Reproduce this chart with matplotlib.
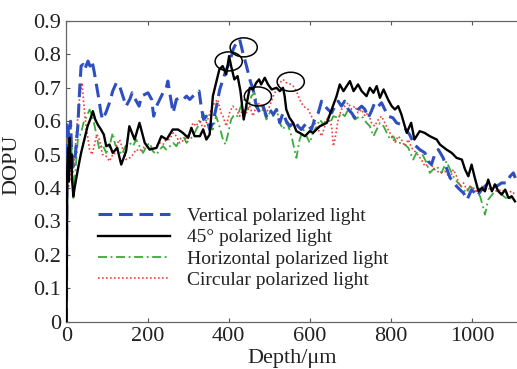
import matplotlib
matplotlib.use('Agg')
import matplotlib.pyplot as plt
from matplotlib.patches import Ellipse

plt.rcParams['font.family'] = ['Liberation Serif', 'DejaVu Serif']
plt.rcParams['mathtext.fontset'] = 'stix'

# ---- data
# 45 degree polarized light (black solid)
x_45 = [0, 2, 4, 6, 8, 10, 12, 14, 17, 20, 28, 36, 44, 52, 60, 65, 71, 77, 85, 92,
        98, 106, 114, 125, 135, 147, 155, 168, 180, 193, 205, 222, 234, 247, 262, 275, 287, 300, 308, 316,
        329, 337, 345, 353, 357, 361, 369, 377, 385, 394, 401, 406, 414, 422, 429, 437, 444, 452, 460, 468,
        475, 480, 489, 497, 506, 518, 526, 534, 538, 542, 550, 559, 567, 575, 588, 600, 608, 625, 642, 654,
        666, 674, 683, 691, 699, 708, 719, 728, 740, 748, 757, 765, 773, 782, 793, 802, 810, 818, 826, 839,
        850, 858, 871, 883, 896, 913, 921, 937, 950, 962, 975, 983, 991, 999, 1007, 1016, 1024, 1032, 1040, 1049,
        1057, 1065, 1073, 1082, 1090, 1098, 1106]
y_45 = [0.0, 0.45, 0.52, 0.42, 0.55, 0.46, 0.5, 0.42, 0.375, 0.40, 0.455, 0.505, 0.545, 0.585, 0.61, 0.63, 0.605, 0.59, 0.575, 0.56,
        0.525, 0.53, 0.505, 0.52, 0.47, 0.51, 0.585, 0.545, 0.595, 0.535, 0.515, 0.52, 0.555, 0.545, 0.575, 0.575, 0.565, 0.55, 0.58, 0.555,
        0.555, 0.575, 0.545, 0.56, 0.615, 0.675, 0.715, 0.755, 0.765, 0.74, 0.795, 0.765, 0.725, 0.735, 0.69, 0.605, 0.65, 0.70, 0.695, 0.715,
        0.725, 0.71, 0.73, 0.71, 0.695, 0.70, 0.69, 0.70, 0.675, 0.635, 0.61, 0.595, 0.57, 0.565, 0.555, 0.57, 0.565, 0.585, 0.595, 0.635,
        0.675, 0.71, 0.69, 0.705, 0.72, 0.69, 0.71, 0.69, 0.675, 0.70, 0.685, 0.705, 0.67, 0.695, 0.665, 0.645, 0.635, 0.645, 0.62, 0.565,
        0.595, 0.545, 0.57, 0.565, 0.555, 0.545, 0.53, 0.515, 0.505, 0.49, 0.485, 0.455, 0.435, 0.47, 0.43, 0.39, 0.40, 0.39, 0.425, 0.39,
        0.41, 0.39, 0.38, 0.395, 0.37, 0.375, 0.36]

# vertical polarized light (blue dashed)
x_vert = [0, 1, 4, 7, 10, 13, 17, 22, 28, 32, 36, 41, 45, 53, 58, 63, 68, 73, 80, 85,
          89, 97, 106, 114, 123, 131, 139, 147, 156, 162, 170, 179, 185, 193, 201, 210, 215, 222, 230, 238,
          245, 250, 256, 263, 271, 279, 288, 296, 304, 312, 320, 327, 332, 338, 345, 353, 361, 370, 378, 386,
          394, 402, 411, 419, 427, 435, 444, 452, 460, 468, 477, 485, 493, 501, 510, 518, 526, 534, 542, 551,
          563, 571, 579, 592, 604, 612, 621, 629, 637, 645, 654, 662, 670, 678, 686, 695, 703, 711, 719, 728,
          736, 744, 752, 760, 769, 777, 785, 793, 805, 814, 825, 834, 846, 858, 871, 884, 892, 900, 908, 917,
          929, 937, 946, 954, 962, 970, 979, 988, 999, 1007, 1012, 1024, 1036, 1049, 1061, 1073, 1086, 1094, 1102, 1107]
y_vert = [0.0, 0.6, 0.58, 0.52, 0.6, 0.5, 0.465, 0.5, 0.585, 0.685, 0.765, 0.77, 0.755, 0.78, 0.765, 0.78, 0.75, 0.715, 0.665, 0.625,
          0.605, 0.625, 0.655, 0.69, 0.715, 0.705, 0.675, 0.645, 0.665, 0.685, 0.665, 0.645, 0.675, 0.68, 0.685, 0.665, 0.615, 0.645, 0.665, 0.685,
          0.695, 0.72, 0.675, 0.625, 0.665, 0.67, 0.665, 0.675, 0.665, 0.675, 0.685, 0.69, 0.645, 0.605, 0.615, 0.575, 0.595, 0.645, 0.695, 0.725,
          0.755, 0.775, 0.815, 0.835, 0.845, 0.805, 0.765, 0.725, 0.695, 0.645, 0.625, 0.645, 0.615, 0.635, 0.62, 0.635, 0.595, 0.625, 0.60, 0.585,
          0.60, 0.585, 0.575, 0.595, 0.575, 0.605, 0.625, 0.66, 0.645, 0.635, 0.625, 0.645, 0.66, 0.645, 0.66, 0.635, 0.625, 0.61, 0.635, 0.645,
          0.635, 0.61, 0.63, 0.655, 0.645, 0.655, 0.635, 0.615, 0.61, 0.595, 0.59, 0.58, 0.56, 0.53, 0.515, 0.505, 0.48, 0.47, 0.50, 0.515,
          0.49, 0.46, 0.43, 0.42, 0.405, 0.395, 0.385, 0.365, 0.395, 0.385, 0.375, 0.395, 0.41, 0.415, 0.405, 0.415, 0.415, 0.435, 0.445, 0.43]

# horizontal polarized light (green dash-dot)
x_horz = [0, 1, 4, 7, 10, 13, 17, 22, 28, 36, 42, 48, 57, 65, 73, 81, 89, 98, 106, 114,
          120, 128, 137, 145, 156, 164, 172, 180, 189, 197, 205, 213, 222, 230, 238, 246, 255, 263, 271, 279,
          288, 296, 304, 312, 320, 329, 337, 345, 353, 361, 369, 377, 386, 392, 398, 406, 414, 422, 430, 439,
          447, 456, 464, 469, 477, 485, 493, 501, 510, 518, 526, 534, 542, 547, 555, 563, 567, 575, 584, 592,
          600, 608, 617, 625, 633, 642, 650, 658, 670, 678, 686, 695, 703, 711, 724, 732, 740, 748, 757, 765,
          773, 782, 790, 798, 806, 814, 830, 843, 855, 863, 871, 880, 888, 896, 904, 913, 925, 937, 946, 958,
          970, 979, 987, 995, 1007, 1020, 1028, 1032, 1040, 1053, 1065, 1078, 1090, 1102]
y_horz = [0.0, 0.55, 0.5, 0.55, 0.47, 0.52, 0.37, 0.45, 0.545, 0.565, 0.595, 0.61, 0.635, 0.61, 0.565, 0.515, 0.53, 0.505, 0.525, 0.565,
          0.53, 0.515, 0.50, 0.525, 0.535, 0.525, 0.545, 0.525, 0.505, 0.525, 0.535, 0.51, 0.50, 0.515, 0.525, 0.515, 0.525, 0.535, 0.525, 0.545,
          0.555, 0.535, 0.545, 0.555, 0.575, 0.595, 0.625, 0.60, 0.58, 0.575, 0.615, 0.585, 0.545, 0.53, 0.56, 0.605, 0.62, 0.615, 0.645, 0.665,
          0.635, 0.675, 0.685, 0.655, 0.625, 0.635, 0.605, 0.625, 0.615, 0.635, 0.595, 0.575, 0.595, 0.585, 0.555, 0.51, 0.49, 0.545, 0.575, 0.555,
          0.535, 0.565, 0.585, 0.605, 0.59, 0.605, 0.595, 0.615, 0.61, 0.625, 0.615, 0.635, 0.62, 0.605, 0.615, 0.61, 0.595, 0.585, 0.555, 0.575,
          0.595, 0.585, 0.565, 0.545, 0.555, 0.535, 0.535, 0.52, 0.485, 0.505, 0.515, 0.495, 0.475, 0.445, 0.455, 0.465, 0.445, 0.48, 0.455, 0.425,
          0.41, 0.395, 0.385, 0.405, 0.395, 0.375, 0.34, 0.32, 0.365, 0.385, 0.395, 0.375, 0.365, 0.375]

# circular polarized light (red dotted)
x_circ = [0, 2, 5, 8, 12, 16, 20, 24, 32, 38, 44, 49, 52, 57, 63, 69, 75, 81, 89, 98,
          106, 114, 118, 124, 131, 139, 147, 156, 164, 172, 180, 188, 197, 205, 213, 222, 230, 238, 246, 254,
          263, 271, 279, 292, 304, 312, 320, 329, 337, 345, 357, 365, 373, 381, 386, 394, 402, 410, 419, 427,
          435, 444, 452, 460, 468, 477, 485, 493, 501, 510, 518, 526, 534, 542, 547, 559, 567, 575, 584, 596,
          604, 612, 621, 629, 637, 645, 654, 658, 662, 670, 678, 686, 695, 703, 711, 719, 728, 736, 744, 752,
          760, 769, 777, 785, 793, 802, 810, 818, 826, 834, 843, 851, 863, 875, 884, 896, 908, 921, 933, 946,
          954, 962, 970, 979, 987, 999, 1012, 1024, 1036, 1049, 1061, 1073, 1086, 1098, 1107]
y_circ = [0.0, 0.45, 0.4, 0.5, 0.42, 0.45, 0.495, 0.56, 0.665, 0.715, 0.635, 0.575, 0.555, 0.515, 0.5, 0.53, 0.56, 0.545, 0.5, 0.495,
          0.48, 0.50, 0.5, 0.53, 0.545, 0.515, 0.485, 0.49, 0.50, 0.515, 0.51, 0.52, 0.525, 0.52, 0.515, 0.525, 0.535, 0.53, 0.545, 0.545,
          0.565, 0.555, 0.535, 0.545, 0.565, 0.595, 0.585, 0.605, 0.575, 0.595, 0.635, 0.655, 0.665, 0.625, 0.615, 0.585, 0.625, 0.645, 0.635, 0.615,
          0.635, 0.625, 0.645, 0.615, 0.645, 0.655, 0.635, 0.625, 0.645, 0.675, 0.695, 0.715, 0.725, 0.715, 0.715, 0.705, 0.69, 0.665, 0.645, 0.635,
          0.615, 0.595, 0.575, 0.555, 0.585, 0.615, 0.585, 0.525, 0.545, 0.605, 0.635, 0.645, 0.655, 0.635, 0.645, 0.625, 0.635, 0.615, 0.625, 0.595,
          0.585, 0.605, 0.615, 0.595, 0.575, 0.555, 0.535, 0.555, 0.545, 0.525, 0.545, 0.52, 0.505, 0.485, 0.465, 0.475, 0.455, 0.445, 0.45, 0.43,
          0.455, 0.435, 0.405, 0.415, 0.395, 0.405, 0.39, 0.405, 0.395, 0.40, 0.39, 0.395, 0.385, 0.39, 0.38]

# circled features (depth, DOPU centre)
circle_x = [400, 437, 472, 553]
circle_y = [0.779, 0.821, 0.674, 0.718]

# ---- figure
fig = plt.figure(figsize=(5.17, 3.69), dpi=100)
ax = fig.add_axes([0.1286, 0.1287, 0.8714, 0.8144])

ax.plot(x_vert, y_vert, color='#2f4fc0', linewidth=2.2, linestyle=(0, (4.5, 2.2)),
        label='Vertical polarized light', zorder=3)
ax.plot(x_45, y_45, color='black', linewidth=1.7, label='45° polarized light', zorder=4)
ax.plot(x_horz, y_horz, color='#3aaa3a', linewidth=1.3, linestyle=(0, (5, 2, 1, 2)),
        label='Horizontal polarized light', zorder=2)
ax.plot(x_circ, y_circ, color='#f04040', linewidth=1.2, linestyle=(0, (1, 1.4)),
        label='Circular polarized light', zorder=2)

for cx, cy in zip(circle_x, circle_y):
    ax.add_patch(Ellipse((cx, cy), 67, 0.057, fill=False, edgecolor='black', linewidth=1.1, zorder=5))

ax.set_xlim(0, 1111)
ax.set_ylim(0, 0.9)
ax.set_xticks([0, 200, 400, 600, 800, 1000])
ax.set_yticks([0, 0.1, 0.2, 0.3, 0.4, 0.5, 0.6, 0.7, 0.8, 0.9])
ax.set_yticklabels(['0', '0.1', '0.2', '0.3', '0.4', '0.5', '0.6', '0.7', '0.8', '0.9'])
ax.tick_params(direction='in', top=True, right=False, length=3, width=0.8,
               labelsize=16, colors='#555555', labelcolor='#222222', pad=4)
ax.spines['right'].set_visible(False)
for s in ['left', 'top', 'bottom']:
    ax.spines[s].set_color('#666666')
    ax.spines[s].set_linewidth(0.9)

ax.set_xlabel('Depth/μm', fontsize=16, color='#222222')
ax.set_ylabel('DOPU', fontsize=16, color='#222222')
ax.xaxis.set_label_coords(0.5, -0.09)
ax.yaxis.set_label_coords(-0.1, 0.52)

leg = ax.legend(loc='upper left', bbox_to_anchor=(0.052, 0.405), frameon=False, fontsize=14,
                handlelength=3.7, handletextpad=0.9, labelspacing=0.19, borderaxespad=0)
for t in leg.get_texts():
    t.set_color('#222222')

fig.savefig('out.png', dpi=100)
